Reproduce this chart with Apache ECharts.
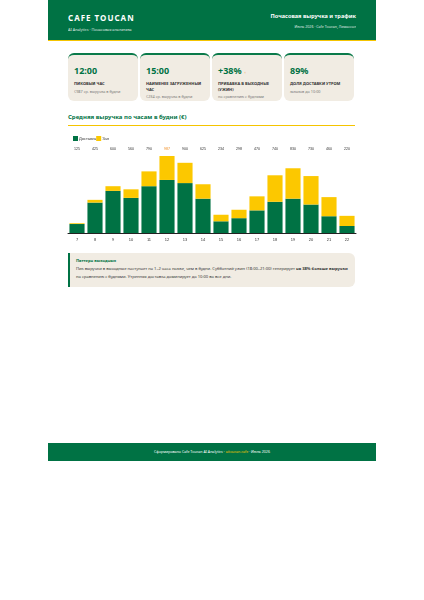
<!DOCTYPE html><html><head><meta charset="utf-8"><script src="https://cdn.jsdelivr.net/npm/echarts@6/dist/echarts.min.js"></script>
<style>
body{margin:0;width:424px;height:600px;background:#fff;font-family:"Noto Sans",sans-serif;position:relative;overflow:hidden}
.hdr{position:absolute;left:48px;top:0;width:328px;height:40px;background:#007244;border-bottom:1px solid #f5c400;color:#fff}
.card{position:absolute;top:53px;width:70px;height:48px;background:#f1ece3;border-top:2px solid #0a7a4a;border-radius:6px;padding:0 0 0 6px;box-sizing:border-box}
.card .v{font-weight:700;color:#007244;font-size:9px;margin-top:9px}
.card .l{font-weight:700;font-size:4px;color:#333;margin-top:4px;line-height:5.5px}
.card .s{font-size:3.8px;color:#777;margin-top:2px}
</style></head><body>
<div class="hdr">
<div style="position:absolute;left:20px;top:12px;font-weight:700;font-size:8px;letter-spacing:1px">CAFE TOUCAN</div>
<div style="position:absolute;left:20px;top:27px;font-size:3.8px;opacity:.85">AI Analytics · Почасовая аналитика</div>
<div style="position:absolute;right:20px;top:12px;font-weight:700;font-size:5.6px">Почасовая выручка и трафик</div>
<div style="position:absolute;right:20px;top:24px;font-size:3.6px;opacity:.85">Июнь 2026 · Cafe Toucan, Лимассол</div>
</div>
<div class="card" style="left:68px"><div class="v">12:00</div><div class="l">ПИКОВЫЙ ЧАС</div><div class="s">€987 ср. выручка в будни</div></div>
<div class="card" style="left:140px"><div class="v">15:00</div><div class="l">НАИМЕНЕЕ ЗАГРУЖЕННЫЙ ЧАС</div><div class="s">€234 ср. выручка в будни</div></div>
<div class="card" style="left:212px"><div class="v">+38% <span style="color:#f08a1c;font-size:4px">↑</span></div><div class="l">ПРИБАВКА В ВЫХОДНЫЕ (УЖИН)</div><div class="s">по сравнению с буднями</div></div>
<div class="card" style="left:284px"><div class="v">89%</div><div class="l">ДОЛЯ ДОСТАВКИ УТРОМ</div><div class="s">заказов до 10:00</div></div>
<div style="position:absolute;left:68px;top:113px;font-weight:700;font-size:6px;color:#007244">Средняя выручка по часам в будни (€)</div>
<div style="position:absolute;left:68px;top:125px;width:287px;height:1px;background:#f5c400"></div>
<div id="c" style="position:absolute;left:60px;top:128px;width:304px;height:122px"></div>
<div style="position:absolute;left:68px;top:253px;width:287px;height:34px;background:#f1ece3;border-left:2px solid #007244;border-radius:0 6px 6px 0;box-sizing:border-box;padding:4px 6px;font-size:4.1px;color:#333;line-height:8px">
<div style="font-weight:700;color:#007244">Паттерн выходных</div>
<div>Пик выручки в выходные наступает на 1–2 часа позже, чем в будни. Субботний ужин (18:00–21:00) генерирует <span style="font-weight:700">на 38% больше выручки</span> по сравнению с буднями. Утренняя доставка доминирует до 10:00 во все дни.</div></div>
<div style="position:absolute;left:48px;top:443px;width:328px;height:18px;background:#007244;color:#fff;font-size:3.6px;text-align:center;line-height:18px">Сформировано Cafe Toucan AI Analytics · <span style="color:#f5c400">aitoucan.cafe</span> · Июнь 2026</div>
<script>
const hours=["7","8","9","10","11","12","13","14","15","16","17","18","19","20","21","22"];
const totals=[125,425,600,560,790,987,900,625,234,298,470,740,830,730,460,220];
const delivery=[115,390,540,450,600,680,640,440,150,190,290,400,440,365,215,90];
const hall=[10,35,60,110,190,307,260,185,84,108,180,340,390,365,245,130];
const ch=echarts.init(document.getElementById('c'));
ch.setOption({animation:false,
legend:{left:8,top:3,itemWidth:5,itemHeight:5,itemGap:0,textStyle:{fontSize:4,color:'#333',padding:[0,0,0,-4]},data:['Доставка','Зал'],icon:'rect'},
grid:{left:8,right:8,top:27,bottom:17},
xAxis:[{type:'category',data:hours,axisTick:{show:false},axisLine:{lineStyle:{color:'#222',width:1}},axisLabel:{fontSize:4,color:'#333',margin:5}},
{type:'category',position:'top',data:totals.map(String),axisLine:{show:false},axisTick:{show:false},
 axisLabel:{fontSize:3.6,color:'#333',margin:4,formatter:(v,i)=>i===5?'{o|'+v+'}':v,rich:{o:{color:'#f08a1c',fontSize:3.6}}}}],
yAxis:{type:'value',min:0,max:1000,show:false,splitLine:{show:false}},
series:[{name:'Доставка',type:'bar',stack:'a',data:delivery,itemStyle:{color:'#007244'},barCategoryGap:'16%'},
{name:'Зал',type:'bar',stack:'a',data:hall,itemStyle:{color:'#fcc800'}},
{type:'bar',xAxisIndex:1,data:[],silent:true}]});
</script></body></html>
